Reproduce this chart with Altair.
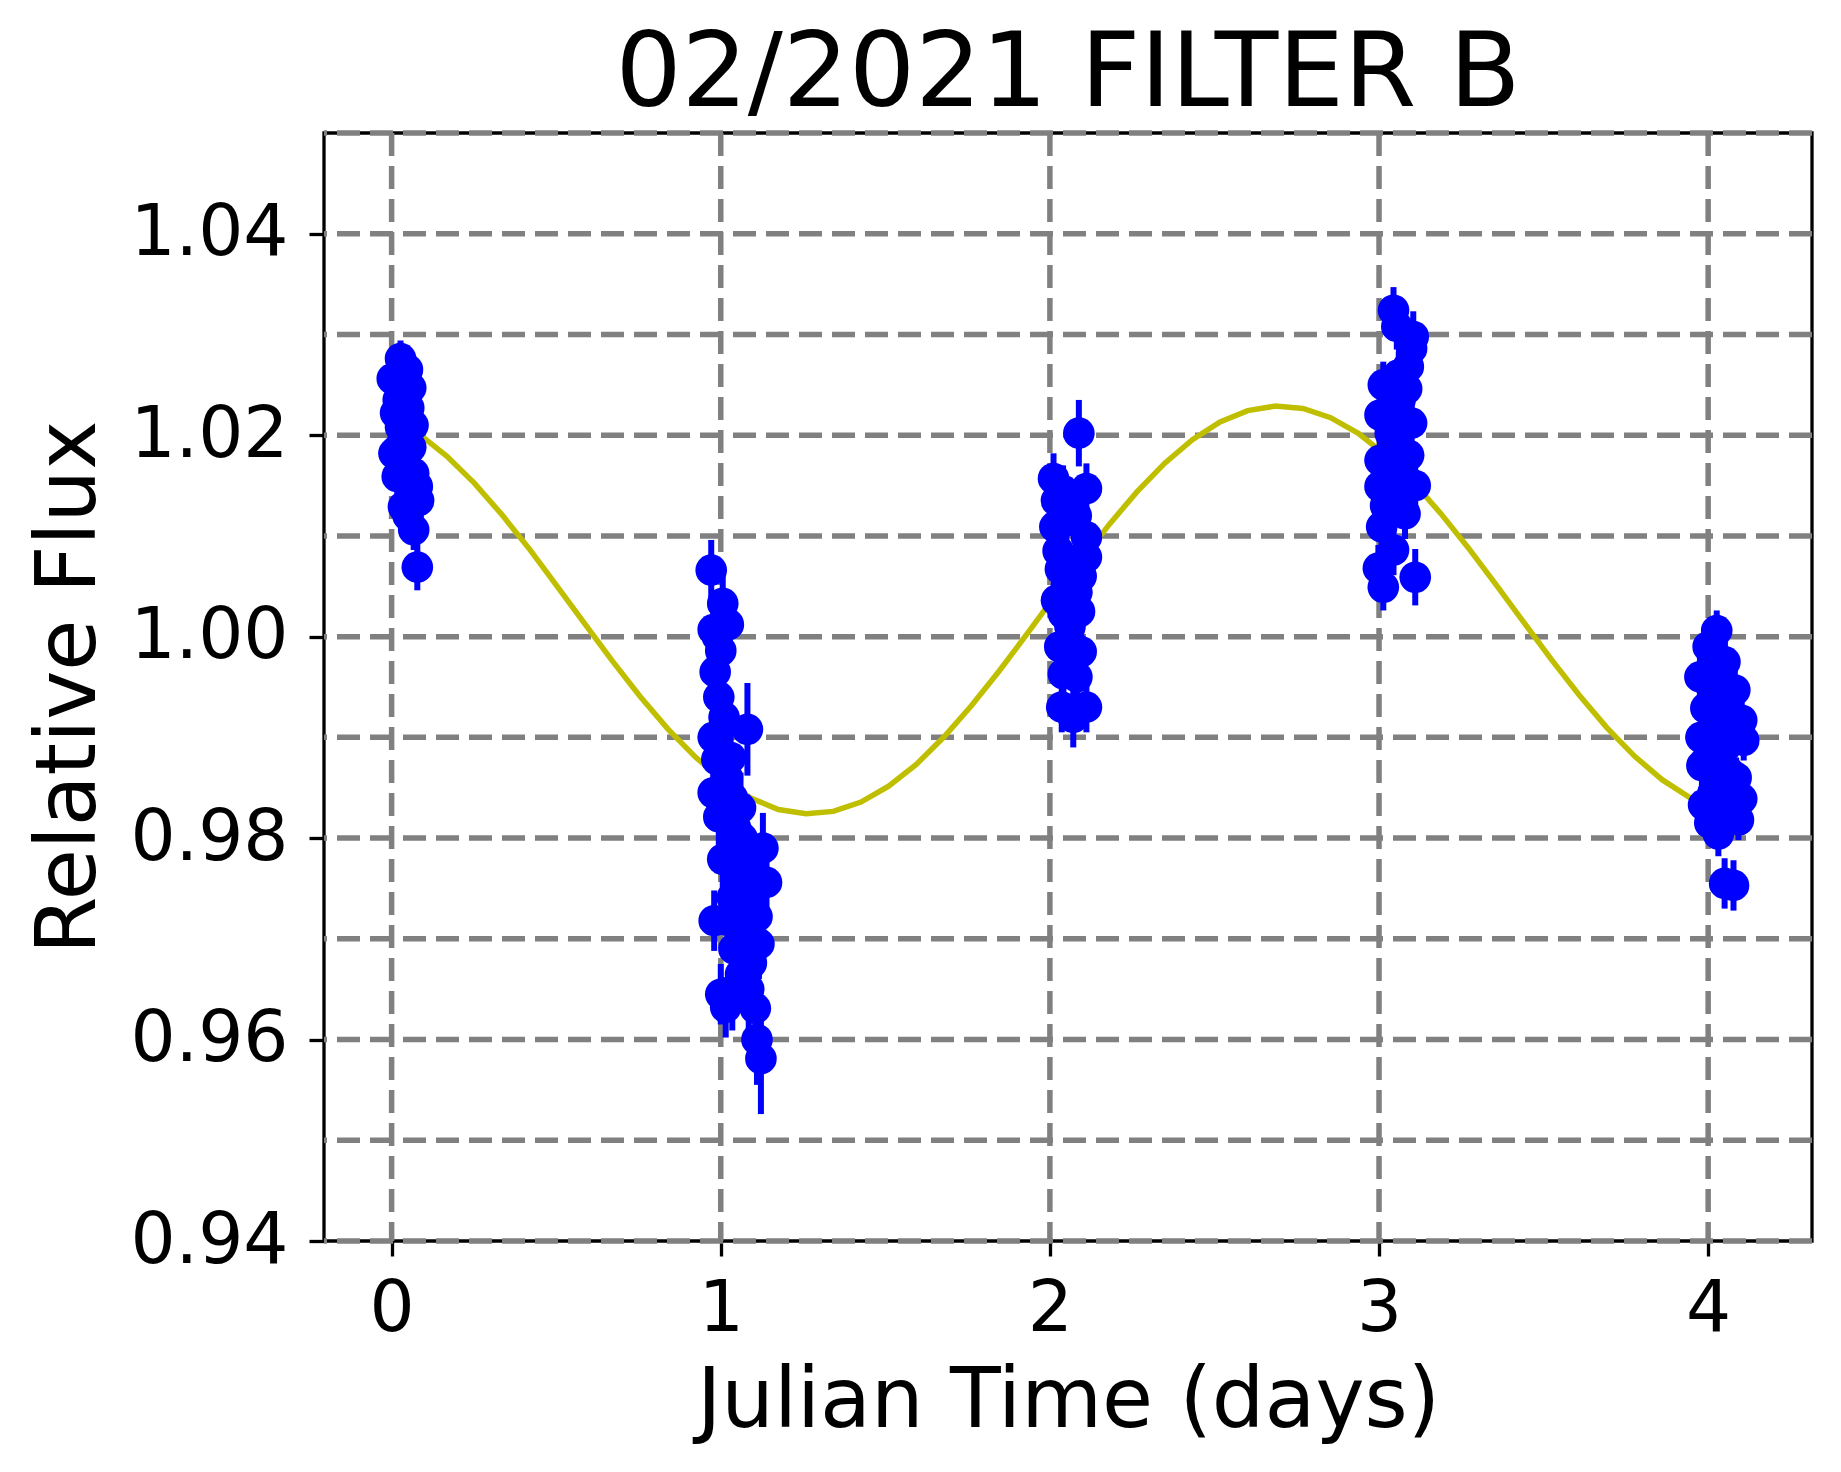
import altair as alt
import pandas as pd

# ---------------- data ----------------
# observed points: time (days), relative flux, error
c1_t = [0.002, 0.027, 0.048, 0.058, 0.012, 0.052, 0.027, 0.040, 0.017, 0.058, 0.035,
        0.017, 0.067, 0.045, 0.078, 0.036, 0.082, 0.060, 0.067, 0.078, 0.007, 0.050,
        0.020, 0.065, 0.030, 0.055]
c1_f = [1.0256, 1.0276, 1.0265, 1.0247, 1.0222, 1.0227, 1.0208, 1.0240, 1.0185, 1.0188, 1.0195,
        1.0159, 1.0162, 1.0170, 1.0149, 1.0129, 1.0135, 1.0142, 1.0106, 1.0069, 1.0182, 1.0120,
        1.0235, 1.0210, 1.0160, 1.0150]
c1_e = [0.0018, 0.0018, 0.0018, 0.0018, 0.0018, 0.0018, 0.0018, 0.0018, 0.0018, 0.0018, 0.0018,
        0.0018, 0.0018, 0.0018, 0.0020, 0.0020, 0.0020, 0.0020, 0.0020, 0.0023, 0.0018, 0.0020,
        0.0018, 0.0018, 0.0018, 0.0018]

c2_t = [0.971, 1.006, 0.977, 1.023, 1.000, 0.983, 0.994, 0.977, 1.081, 0.988, 0.977, 1.035,
        0.994, 1.060, 1.128, 1.006, 1.050, 1.139, 1.035, 1.093, 1.070, 1.023, 1.110, 1.116,
        1.093, 1.035, 1.105, 1.110, 1.122, 1.000, 1.015, 0.980,
        1.045, 1.065, 1.080, 1.100, 1.055, 1.075, 1.040, 1.060, 1.085, 1.020, 1.030, 1.010,
        0.990, 1.045]
c2_f = [1.0066, 1.0033, 1.0007, 1.0012, 0.9986, 0.9965, 0.9940, 0.9900, 0.9908, 0.9878, 0.9845, 0.9840,
        0.9821, 0.9830, 0.9790, 0.9779, 0.9790, 0.9756, 0.9741, 0.9741, 0.9765, 0.9718, 0.9722, 0.9695,
        0.9676, 0.9644, 0.9631, 0.9600, 0.9581, 0.9645, 0.9632, 0.9718,
        0.9810, 0.9800, 0.9775, 0.9760, 0.9740, 0.9705, 0.9690, 0.9665, 0.9650, 0.9860, 0.9880, 0.9920,
        1.0000, 0.9765]
c2_e = [0.0030, 0.0030, 0.0030, 0.0030, 0.0030, 0.0030, 0.0030, 0.0030, 0.0046, 0.0030, 0.0030, 0.0030,
        0.0030, 0.0035, 0.0035, 0.0030, 0.0035, 0.0035, 0.0035, 0.0035, 0.0035, 0.0035, 0.0035, 0.0035,
        0.0040, 0.0035, 0.0040, 0.0045, 0.0055, 0.0030, 0.0030, 0.0030,
        0.0035, 0.0035, 0.0035, 0.0035, 0.0035, 0.0035, 0.0035, 0.0035, 0.0040, 0.0030, 0.0030, 0.0030,
        0.0030, 0.0035]

c3_t = [2.088, 2.011, 2.111, 2.020, 2.040, 2.015, 2.111, 2.050, 2.111, 2.032, 2.072, 2.082,
        2.020, 2.041, 2.061, 2.071, 2.082, 2.041, 2.036, 2.111, 2.071, 2.025, 2.090,
        2.060, 2.080, 2.095, 2.050, 2.030, 2.095]
c3_f = [1.0202, 1.0157, 1.0147, 1.0135, 1.0145, 1.0109, 1.0099, 1.0115, 1.0079, 1.0067, 1.0066, 1.0044,
        1.0036, 1.0023, 1.0010, 0.9990, 0.9960, 0.9963, 0.9930, 0.9930, 0.9920, 1.0085, 1.0025,
        1.0130, 1.0120, 1.0060, 1.0050, 0.9990, 0.9985]
c3_e = [0.0033, 0.0025, 0.0025, 0.0025, 0.0025, 0.0025, 0.0025, 0.0025, 0.0025, 0.0025, 0.0025, 0.0025,
        0.0025, 0.0025, 0.0025, 0.0025, 0.0025, 0.0025, 0.0025, 0.0025, 0.0030, 0.0025, 0.0025,
        0.0025, 0.0025, 0.0025, 0.0025, 0.0025, 0.0025]

c4_t = [3.044, 3.054, 3.104, 3.099, 3.089, 3.013, 3.084, 3.064, 3.003, 3.099, 3.034, 3.003,
        3.110, 3.003, 3.069, 3.079, 3.008, 3.044, 2.998, 3.013, 3.110, 3.030, 3.050, 3.070,
        3.020, 3.060, 3.040, 3.090]
c4_f = [1.0324, 1.0308, 1.0298, 1.0286, 1.0268, 1.0250, 1.0246, 1.0235, 1.0220, 1.0212, 1.0202, 1.0175,
        1.0150, 1.0149, 1.0135, 1.0122, 1.0109, 1.0086, 1.0068, 1.0049, 1.0059, 1.0160, 1.0190, 1.0170,
        1.0130, 1.0260, 1.0225, 1.0180]
c4_e = [0.0023, 0.0023, 0.0025, 0.0025, 0.0025, 0.0023, 0.0025, 0.0023, 0.0023, 0.0025, 0.0023, 0.0023,
        0.0025, 0.0023, 0.0025, 0.0025, 0.0023, 0.0025, 0.0023, 0.0023, 0.0028, 0.0023, 0.0023, 0.0023,
        0.0023, 0.0023, 0.0023, 0.0025]

c5_t = [4.026, 4.000, 4.051, 3.975, 4.081, 3.993, 4.102, 3.978, 4.108, 4.051, 4.020, 3.981,
        4.067, 4.035, 4.102, 3.986, 4.092, 4.031, 4.055, 4.077, 4.050, 4.010, 4.060,
        4.040, 4.070, 4.000, 4.040, 4.085, 4.015, 4.065, 4.005]
c5_f = [1.0006, 0.9990, 0.9975, 0.9960, 0.9947, 0.9929, 0.9917, 0.9900, 0.9897, 0.9890, 0.9910, 0.9872,
        0.9864, 0.9855, 0.9839, 0.9833, 0.9818, 0.9804, 0.9820, 0.9753, 0.9755, 0.9950, 0.9930,
        0.9960, 0.9900, 0.9880, 0.9875, 0.9860, 0.9845, 0.9830, 0.9815]
c5_e = [0.0020, 0.0020, 0.0020, 0.0020, 0.0020, 0.0020, 0.0020, 0.0020, 0.0020, 0.0020, 0.0020, 0.0020,
        0.0020, 0.0020, 0.0020, 0.0020, 0.0020, 0.0022, 0.0022, 0.0025, 0.0025, 0.0020, 0.0020,
        0.0020, 0.0020, 0.0020, 0.0020, 0.0020, 0.0020, 0.0020, 0.0020]

fit_t = [0.000, 0.084, 0.168, 0.252, 0.336, 0.420, 0.503, 0.587, 0.671, 0.755,
         0.839, 0.923, 1.007, 1.091, 1.175, 1.259, 1.342, 1.426, 1.510, 1.594,
         1.678, 1.762, 1.846, 1.930, 2.014, 2.098, 2.181, 2.265, 2.349, 2.433,
         2.517, 2.601, 2.685, 2.769, 2.853, 2.937, 3.020, 3.104, 3.188, 3.272,
         3.356, 3.440, 3.524, 3.608, 3.692, 3.776, 3.860, 3.944, 4.027, 4.111]
fit_f = [1.02169, 1.02010, 1.01791, 1.01522, 1.01207, 1.00864, 1.00499, 1.00126, 0.99757, 0.99406,
         0.99085, 0.98804, 0.98573, 0.98398, 0.98284, 0.98241, 0.98265, 0.98358, 0.98515, 0.98732,
         0.99003, 0.99316, 0.99659, 1.00024, 1.00397, 1.00765, 1.01117, 1.01439, 1.01722, 1.01956,
         1.02131, 1.02244, 1.02289, 1.02265, 1.02174, 1.02018, 1.01802, 1.01533, 1.01221, 1.00878,
         1.00514, 1.00141, 0.99771, 0.99420, 0.99097, 0.98814, 0.98580, 0.98403, 0.98288, 0.98241]

x_ticks = [0, 1, 2, 3, 4]
y_ticks = [0.94, 0.96, 0.98, 1.00, 1.02, 1.04]
y_grid = [0.94, 0.95, 0.96, 0.97, 0.98, 0.99, 1.00, 1.01, 1.02, 1.03, 1.04, 1.05]
x_domain = [-0.2055, 4.3155]
y_domain = [0.94, 1.05]

# ---------------- build tables ----------------
obs = pd.DataFrame({
    "t": c1_t + c2_t + c3_t + c4_t + c5_t,
    "f": c1_f + c2_f + c3_f + c4_f + c5_f,
    "e": c1_e + c2_e + c3_e + c4_e + c5_e,
})
obs["lo"] = obs["f"] - obs["e"]
obs["hi"] = obs["f"] + obs["e"]
fit = pd.DataFrame({"t": fit_t, "f": fit_f})
hgrid = pd.DataFrame({"f": y_grid})
vgrid = pd.DataFrame({"t": x_ticks})

W, H = 1488, 1108
FONT = "DejaVu Sans"

xaxis = alt.Axis(values=x_ticks, format="d", grid=False, domain=False,
                 tickColor="black", tickWidth=3.3, tickSize=15,
                 labelFont=FONT, labelFontSize=71, labelColor="black",
                 labelBaseline="alphabetic", labelPadding=74, labelOverlap=False,
                 labelFlush=False,
                 title="Julian Time (days)", titleFont=FONT, titleFontSize=83,
                 titleFontWeight="normal", titleColor="black",
                 titleBaseline="alphabetic", titleX=W / 2, titleY=185)
yaxis = alt.Axis(values=y_ticks, format=".2f", grid=False, domain=False,
                 tickColor="black", tickWidth=3.3, tickSize=15,
                 labelFont=FONT, labelFontSize=71, labelColor="black",
                 labelPadding=21, labelOverlap=False, labelFlush=False,
                 title="Relative Flux", titleFont=FONT, titleFontSize=83,
                 titleFontWeight="normal", titleColor="black",
                 titleAngle=270, titleAlign="center", titleBaseline="alphabetic",
                 titleX=-230, titleY=H / 2)

xs = alt.Scale(domain=x_domain, nice=False, zero=False)
ys = alt.Scale(domain=y_domain, nice=False, zero=False)


def X(field):
    return alt.X(f"{field}:Q", scale=xs, axis=xaxis)


def Y(field):
    return alt.Y(f"{field}:Q", scale=ys, axis=yaxis)


grid_style = dict(color="#808080", strokeWidth=5.5, strokeDash=[23, 10])

hg = alt.Chart(hgrid).mark_rule(**grid_style).encode(y=Y("f"))
vg = alt.Chart(vgrid).mark_rule(**grid_style).encode(x=X("t"))

curve = alt.Chart(fit).mark_line(color="#bfbf00", strokeWidth=5.5).encode(
    x=X("t"), y=Y("f"), order="t:Q")

bars = alt.Chart(obs).mark_rule(color="#0000ff", strokeWidth=6).encode(
    x=X("t"), y=Y("lo"), y2="hi")

pts = alt.Chart(obs).mark_circle(color="#0000ff", size=1000, opacity=1).encode(
    x=X("t"), y=Y("f"))

chart = alt.layer(hg, vg, curve, bars, pts).properties(
    width=W, height=H,
    title=alt.TitleParams("02/2021 FILTER B", font=FONT, fontSize=104,
                          fontWeight="normal", color="black", anchor="middle",
                          baseline="bottom", offset=4, dy=106, frame="group"),
    padding={"left": 316, "top": 125, "right": 21, "bottom": 223},
    autosize=alt.AutoSizeParams(type="none"),
).configure(background="white").configure_view(stroke="black", strokeWidth=3.3)

chart.save("out.html", embed_options={"renderer": "svg", "actions": False})
